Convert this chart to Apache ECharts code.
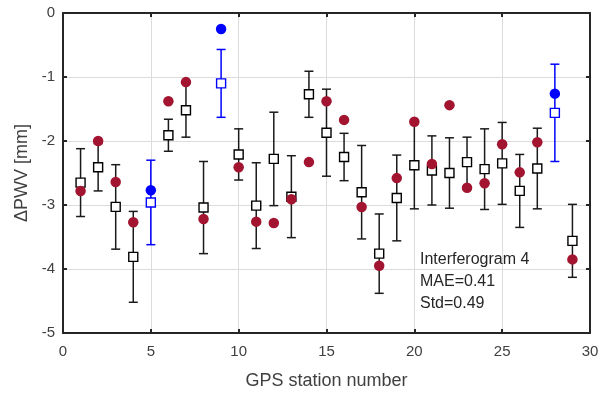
<!DOCTYPE html>
<html>
<head>
<meta charset="utf-8">
<script src="https://cdn.jsdelivr.net/npm/echarts@6/dist/echarts.min.js"></script>
<style>html,body{margin:0;padding:0;background:#fff;}#c{width:612px;height:396px;}</style>
</head>
<body>
<div id="c"></div>
<script>
const stations = [1,2,3,4,5,6,7,8,9,10,11,12,13,14,15,16,17,18,19,20,21,22,23,24,25,26,27,28,29];
const insarValues = [-2.65,-2.41,-3.03,-3.81,-2.96,-1.91,-1.52,-3.04,-1.10,-2.21,-3.01,-2.28,-2.87,-1.27,-1.87,-2.25,-2.80,-3.76,-2.89,-2.38,-2.46,-2.50,-2.33,-2.44,-2.35,-2.78,-2.43,-1.56,-3.56];
const insarErrors = [0.53,0.37,0.66,0.71,0.66,0.25,0.42,0.72,0.53,0.40,0.67,0.73,0.64,0.36,0.68,0.37,0.73,0.62,0.67,0.68,0.54,0.55,0.39,0.63,0.64,0.57,0.63,0.76,0.57];
const gpsValues = [-2.78,-2.00,-2.64,-3.27,-2.77,-1.38,-1.08,-3.22,-0.25,-2.41,-3.26,-3.28,-2.91,-2.33,-1.38,-1.67,-3.03,-3.95,-2.58,-1.70,-2.36,-1.44,-2.73,-2.66,-2.05,-2.49,-2.02,-1.26,-3.85];
const highlighted = [5, 9, 28];
const xTicks = [0,5,10,15,20,25,30];
const yTicks = [0,-1,-2,-3,-4,-5];
const annotation = ['Interferogram 4', 'MAE=0.41', 'Std=0.49'];

const BLUE = '#0000FF', RED = '#A2142F', BLACK = '#000000';
const isHi = s => highlighted.indexOf(s) >= 0;

const chart = echarts.init(document.getElementById('c'));
const fontFam = 'Liberation Sans, Arial, sans-serif';

const errData = stations.map((s,i) => [s, insarValues[i], insarErrors[i]]);
const sqData = stations.map((s,i) => ({value:[s, insarValues[i]], itemStyle:{color:'#fff', opacity:1, borderColor: isHi(s)?BLUE:BLACK, borderWidth:1.4}}));
const dotData = stations.map((s,i) => ({value:[s, gpsValues[i]], itemStyle:{color: isHi(s)?BLUE:RED, opacity:1}}));

const axisCommon = {
  axisLine:{show:true, onZero:false, lineStyle:{color:'#262626', width:2}},
  axisTick:{show:true, inside:true, length:4, lineStyle:{color:'#262626', width:2}},
};

chart.setOption({
  animation:false,
  grid:{left:63, top:13, width:527, height:320, containLabel:false},
  xAxis:[
    Object.assign({type:'value', min:xTicks[0], max:xTicks[xTicks.length-1], interval:5, position:'bottom',
      axisLabel:{color:'#404040', fontSize:15, fontFamily:fontFam, margin:11},
      splitLine:{show:true, lineStyle:{color:'#dcdcdc', width:1}},
      name:'GPS station number', nameLocation:'middle', nameGap:39,
      nameTextStyle:{color:'#404040', fontSize:18, fontFamily:fontFam}}, axisCommon),
    Object.assign({type:'value', min:xTicks[0], max:xTicks[xTicks.length-1], interval:5, position:'top',
      axisLabel:{show:false}, splitLine:{show:false}}, axisCommon)
  ],
  yAxis:[
    Object.assign({type:'value', min:yTicks[yTicks.length-1], max:yTicks[0], interval:1, position:'left',
      axisLabel:{color:'#404040', fontSize:15, fontFamily:fontFam, margin:8},
      splitLine:{show:true, lineStyle:{color:'#dcdcdc', width:1}},
      name:'\u0394PWV [mm]', nameLocation:'middle', nameGap:25, nameRotate:90,
      nameTextStyle:{color:'#404040', fontSize:18, fontFamily:fontFam}}, axisCommon),
    Object.assign({type:'value', min:yTicks[yTicks.length-1], max:yTicks[0], interval:1, position:'right',
      axisLabel:{show:false}, splitLine:{show:false}}, axisCommon)
  ],
  series:[
    {
      type:'custom', z:2,
      data: errData,
      renderItem:function(params, api){
        const x = api.value(0), y = api.value(1), e = api.value(2);
        const top = api.coord([x, y+e]);
        const bot = api.coord([x, y-e]);
        const col = isHi(x) ? BLUE : '#1a1a1a';
        const hw = 4.5;
        const st = {stroke:col, lineWidth:1.5};
        return {type:'group', children:[
          {type:'line', shape:{x1:top[0], y1:top[1], x2:bot[0], y2:bot[1]}, style:st},
          {type:'line', shape:{x1:top[0]-hw, y1:top[1], x2:top[0]+hw, y2:top[1]}, style:st},
          {type:'line', shape:{x1:bot[0]-hw, y1:bot[1], x2:bot[0]+hw, y2:bot[1]}, style:st}
        ]};
      }
    },
    {type:'scatter', z:3, symbol:'rect', symbolSize:9, data:sqData},
    {type:'scatter', z:4, symbol:'circle', symbolSize:10.5, data:dotData}
  ],
  graphic: annotation.map((t,i) => ({
    type:'text', x:420, y:260 + i*22, z:10,
    style:{text:t, fill:'#262626', fontSize:16, fontFamily:fontFam, verticalAlign:'middle', align:'left'}
  }))
});
</script>
</body>
</html>
